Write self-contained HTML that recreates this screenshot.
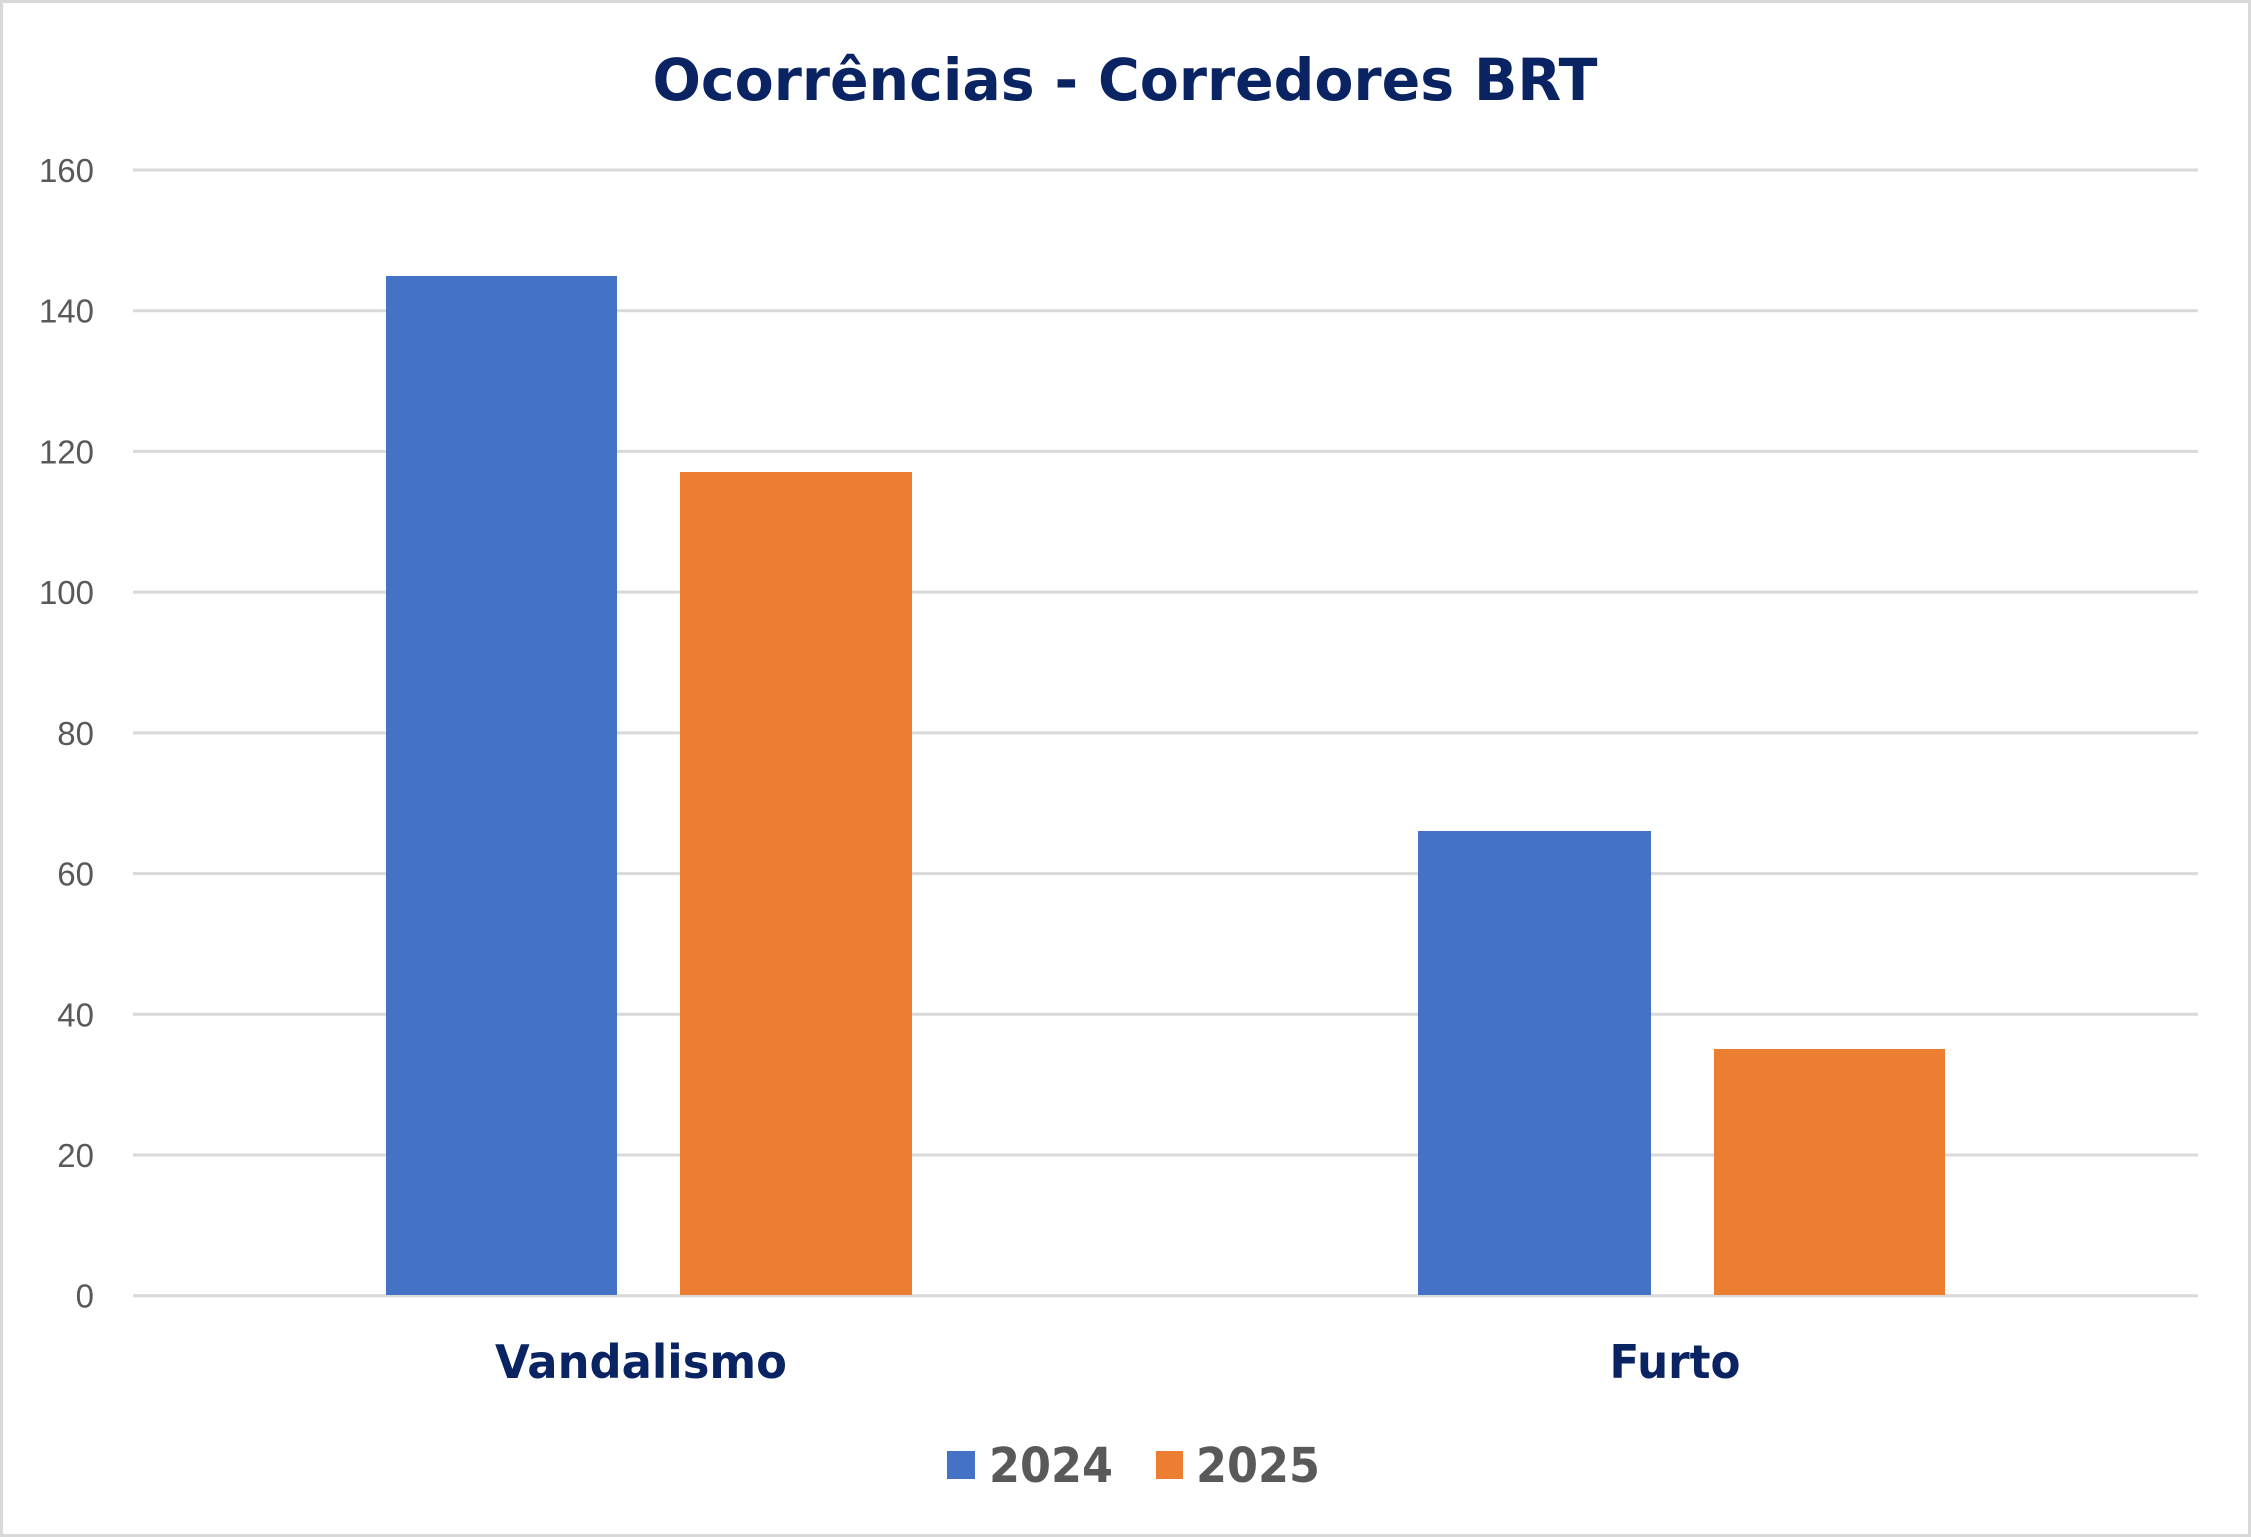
<!DOCTYPE html>
<html><head><meta charset="utf-8"><style>
html,body{margin:0;padding:0;background:#fff;}
svg{display:block;}
</style></head><body>
<svg width="2251" height="1537" viewBox="0 0 2251 1537" xmlns="http://www.w3.org/2000/svg">
<rect x="1.5" y="1.5" width="2248" height="1534" fill="#fff" stroke="#d9d9d9" stroke-width="3"/>
<text x="1125" y="100" text-anchor="middle" font-family="'DejaVu Sans','Liberation Sans',sans-serif" font-weight="bold" font-size="58" fill="#0a2463" textLength="945" lengthAdjust="spacingAndGlyphs">Ocorrências - Corredores BRT</text>
<g stroke="#d9d9d9" stroke-width="3">
<line x1="133" y1="170" x2="2198" y2="170"/>
<line x1="133" y1="310.7" x2="2198" y2="310.7"/>
<line x1="133" y1="451.4" x2="2198" y2="451.4"/>
<line x1="133" y1="592.1" x2="2198" y2="592.1"/>
<line x1="133" y1="732.9" x2="2198" y2="732.9"/>
<line x1="133" y1="873.6" x2="2198" y2="873.6"/>
<line x1="133" y1="1014.3" x2="2198" y2="1014.3"/>
<line x1="133" y1="1155" x2="2198" y2="1155"/>
<line x1="133" y1="1295.7" x2="2198" y2="1295.7"/>
</g>
<g font-family="'Liberation Sans',sans-serif" font-size="33" fill="#595959" text-anchor="end">
<text x="94" y="182">160</text>
<text x="94" y="322.7">140</text>
<text x="94" y="463.4">120</text>
<text x="94" y="604.1">100</text>
<text x="94" y="744.9">80</text>
<text x="94" y="885.6">60</text>
<text x="94" y="1026.3">40</text>
<text x="94" y="1167">20</text>
<text x="94" y="1307.7">0</text>
</g>
<rect x="386" y="276" width="231" height="1019" fill="#4472c4"/>
<rect x="680" y="472" width="232" height="823" fill="#ed7d31"/>
<rect x="1418" y="831" width="233" height="464" fill="#4472c4"/>
<rect x="1714" y="1049" width="231" height="246" fill="#ed7d31"/>
<g font-family="'DejaVu Sans','Liberation Sans',sans-serif" font-weight="bold" font-size="46" fill="#0a2463" text-anchor="middle">
<text x="641" y="1378" textLength="292" lengthAdjust="spacingAndGlyphs">Vandalismo</text>
<text x="1675" y="1378" textLength="131" lengthAdjust="spacingAndGlyphs">Furto</text>
</g>
<rect x="947" y="1451" width="28" height="28" fill="#4472c4"/>
<rect x="1156" y="1451" width="27" height="28" fill="#ed7d31"/>
<g font-family="'DejaVu Sans','Liberation Sans',sans-serif" font-weight="bold" font-size="48" fill="#595959">
<text x="989" y="1482" textLength="124" lengthAdjust="spacingAndGlyphs">2024</text>
<text x="1196" y="1482" textLength="124" lengthAdjust="spacingAndGlyphs">2025</text>
</g>
</svg>
</body></html>
